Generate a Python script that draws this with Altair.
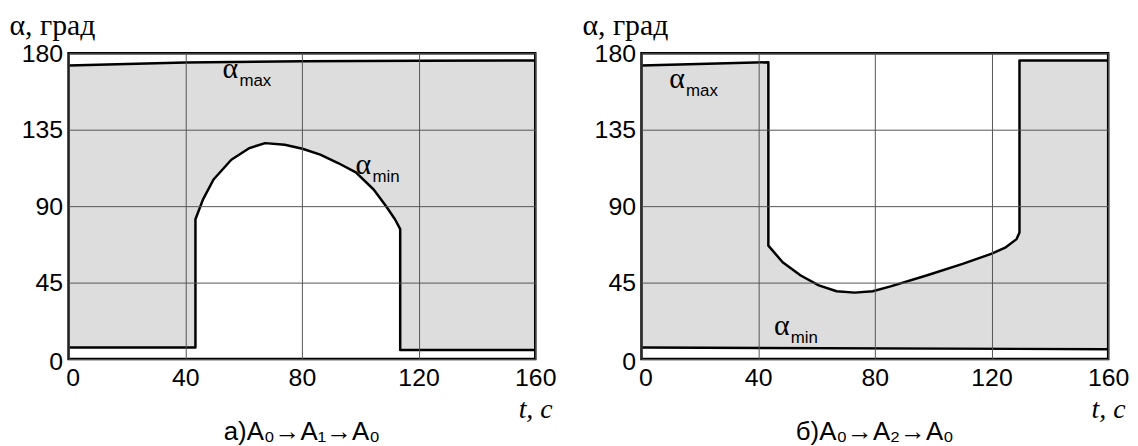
import altair as alt
import pandas as pd

# ---------------- data ----------------
# panel а) A0 -> A1 -> A0
a_max_t = [0, 40, 80, 120, 160]
a_max_v = [172.8, 174.6, 175.3, 175.6, 175.7]
a_min_t = [0, 43.5, 43.5, 46.1, 49.7, 55.8, 61.9, 67.4, 74.1, 80.2, 86.3, 92.4,
           98.5, 104.6, 108.8, 111.9, 113.7, 113.7, 160]
a_min_v = [6.8, 6.8, 82.3, 94.0, 105.7, 117.3, 124.1, 127.1, 126.1, 123.8, 120.3,
           115.4, 109.9, 99.8, 90.1, 82.3, 76.5, 5.4, 5.4]
a_lab_t = [52.8, 98.4]
a_lab_v = [165.4, 108.7]
a_lab_sub = ["max", "min"]
a_caption = "а)A₀→A₁→A₀"

# panel б) A0 -> A2 -> A0
b_max_t = [0, 43.5, 43.5, 48.4, 54.6, 60.8, 66.9, 73.1, 79.3, 85.4, 97.7, 110.1,
           119.9, 124.9, 128.6, 129.6, 129.6, 160]
b_max_v = [172.8, 174.7, 66.8, 57.0, 49.2, 43.4, 39.9, 39.1, 39.9, 42.8, 49.2,
           56.0, 61.9, 65.8, 70.6, 74.5, 175.7, 175.7]
b_min_t = [0, 160]
b_min_v = [6.8, 5.8]
b_lab_t = [9.5, 45.4]
b_lab_v = [159.6, 14.2]
b_lab_sub = ["max", "min"]
b_caption = "б)A₀→A₂→A₀"

x_ticks = [0, 40, 80, 120, 160]
y_ticks = [0, 45, 90, 135, 180]
x_title = "t, с"
y_title = "α, град"

# ---------------- styling ----------------
W, H = 470, 308
SANS = "Liberation Sans"
SERIF = "Liberation Serif"
GREY = "#dddddd"
GRID = "#555555"


def make_df(ts, vs):
    return pd.DataFrame({"t": ts, "v": vs, "i": list(range(len(ts))),
                         "base": [y_ticks[0]] * len(ts)})


def panel(up_t, up_v, lo_t, lo_v, lab_t, lab_v, lab_sub, caption):
    up = make_df(up_t, up_v)
    lo = make_df(lo_t, lo_v)
    labs = pd.DataFrame({"t": lab_t, "v": lab_v, "sub": lab_sub, "a": ["α"] * len(lab_t)})
    box = pd.DataFrame({"t": [x_ticks[0]], "v": [y_ticks[0]],
                        "t2": [x_ticks[-1]], "v2": [y_ticks[-1]]})

    xs = alt.Scale(domain=[x_ticks[0], x_ticks[-1]], nice=False, zero=False)
    ys = alt.Scale(domain=[y_ticks[0], y_ticks[-1]], nice=False)
    x_axis = alt.Axis(
        values=x_ticks, format="d", ticks=False, domain=False,
        grid=True, gridColor=GRID, gridWidth=1, zindex=1,
        labelFont=SANS, labelFontSize=25, labelColor="black", labelPadding=7,
        labelFlush=False,
        labelOffset={"condition": {"test": "datum.value === 0", "value": 4}, "value": 0},
        title=x_title, titleFont=SERIF, titleFontSize=28, titleFontStyle="italic",
        titleFontWeight="normal", titleColor="black", titleAlign="right",
        titleBaseline="alphabetic", titleX=W + 17, titleY=59,
    )
    y_axis = alt.Axis(
        values=y_ticks, format="d", ticks=False, domain=False,
        grid=True, gridColor=GRID, gridWidth=1, zindex=1,
        labelFont=SANS, labelFontSize=25, labelColor="black", labelPadding=6,
        labelFlush=False,
        labelOffset={"condition": {"test": "datum.value === 0", "value": 3}, "value": 0},
        title=y_title, titleFont=SERIF, titleFontSize=30, titleFontWeight="normal",
        titleColor="black", titleAngle=0, titleAlign="left", titleBaseline="alphabetic",
        titleX=-60, titleY=-19,
    )
    X = alt.X("t:Q", scale=xs, axis=x_axis)
    Y = alt.Y("v:Q", scale=ys, axis=y_axis)

    # explicit y2 baseline field => no stacking (vertical jumps stay in data order)
    grey = alt.Chart(up).mark_area(color=GREY, opacity=1).encode(x=X, y=Y, y2="base:Q")
    white = alt.Chart(lo).mark_area(color="white", opacity=1).encode(x=X, y=Y, y2="base:Q")
    l_up = alt.Chart(up).mark_line(color="black", strokeWidth=2.5, strokeJoin="round").encode(
        x=X, y=Y, order="i:Q")
    l_lo = alt.Chart(lo).mark_line(color="black", strokeWidth=2.5, strokeJoin="round").encode(
        x=X, y=Y, order="i:Q")
    alpha = alt.Chart(labs).mark_text(
        font=SERIF, fontSize=30, align="left", baseline="alphabetic", color="black"
    ).encode(x=X, y=Y, text="a:N")
    sub = alt.Chart(labs).mark_text(
        font=SANS, fontSize=17, align="left", baseline="alphabetic", color="black",
        dx=17, dy=8
    ).encode(x=X, y=Y, text="sub:N")
    frame = alt.Chart(box).mark_rect(
        filled=False, stroke="black", strokeWidth=2.5
    ).encode(x=X, y=Y, x2="t2:Q", y2="v2:Q")

    return alt.layer(grey, white, l_up, l_lo, alpha, sub, frame).properties(
        width=W, height=H,
        title=alt.TitleParams(caption, orient="bottom", anchor="middle", font=SANS,
                              fontSize=26, fontWeight="normal", color="black", offset=-4),
    )


left = panel(a_max_t, a_max_v, a_min_t, a_min_v, a_lab_t, a_lab_v, a_lab_sub, a_caption)
right = panel(b_max_t, b_max_v, b_min_t, b_min_v, b_lab_t, b_lab_v, b_lab_sub, b_caption)

chart = alt.hconcat(left, right, spacing=107, bounds="flush").properties(
    padding={"left": 0, "top": 0, "right": 0, "bottom": 0}
).configure_view(stroke=None).configure(background="white")

chart.save("out.html", embed_options={"renderer": "svg", "actions": False})
